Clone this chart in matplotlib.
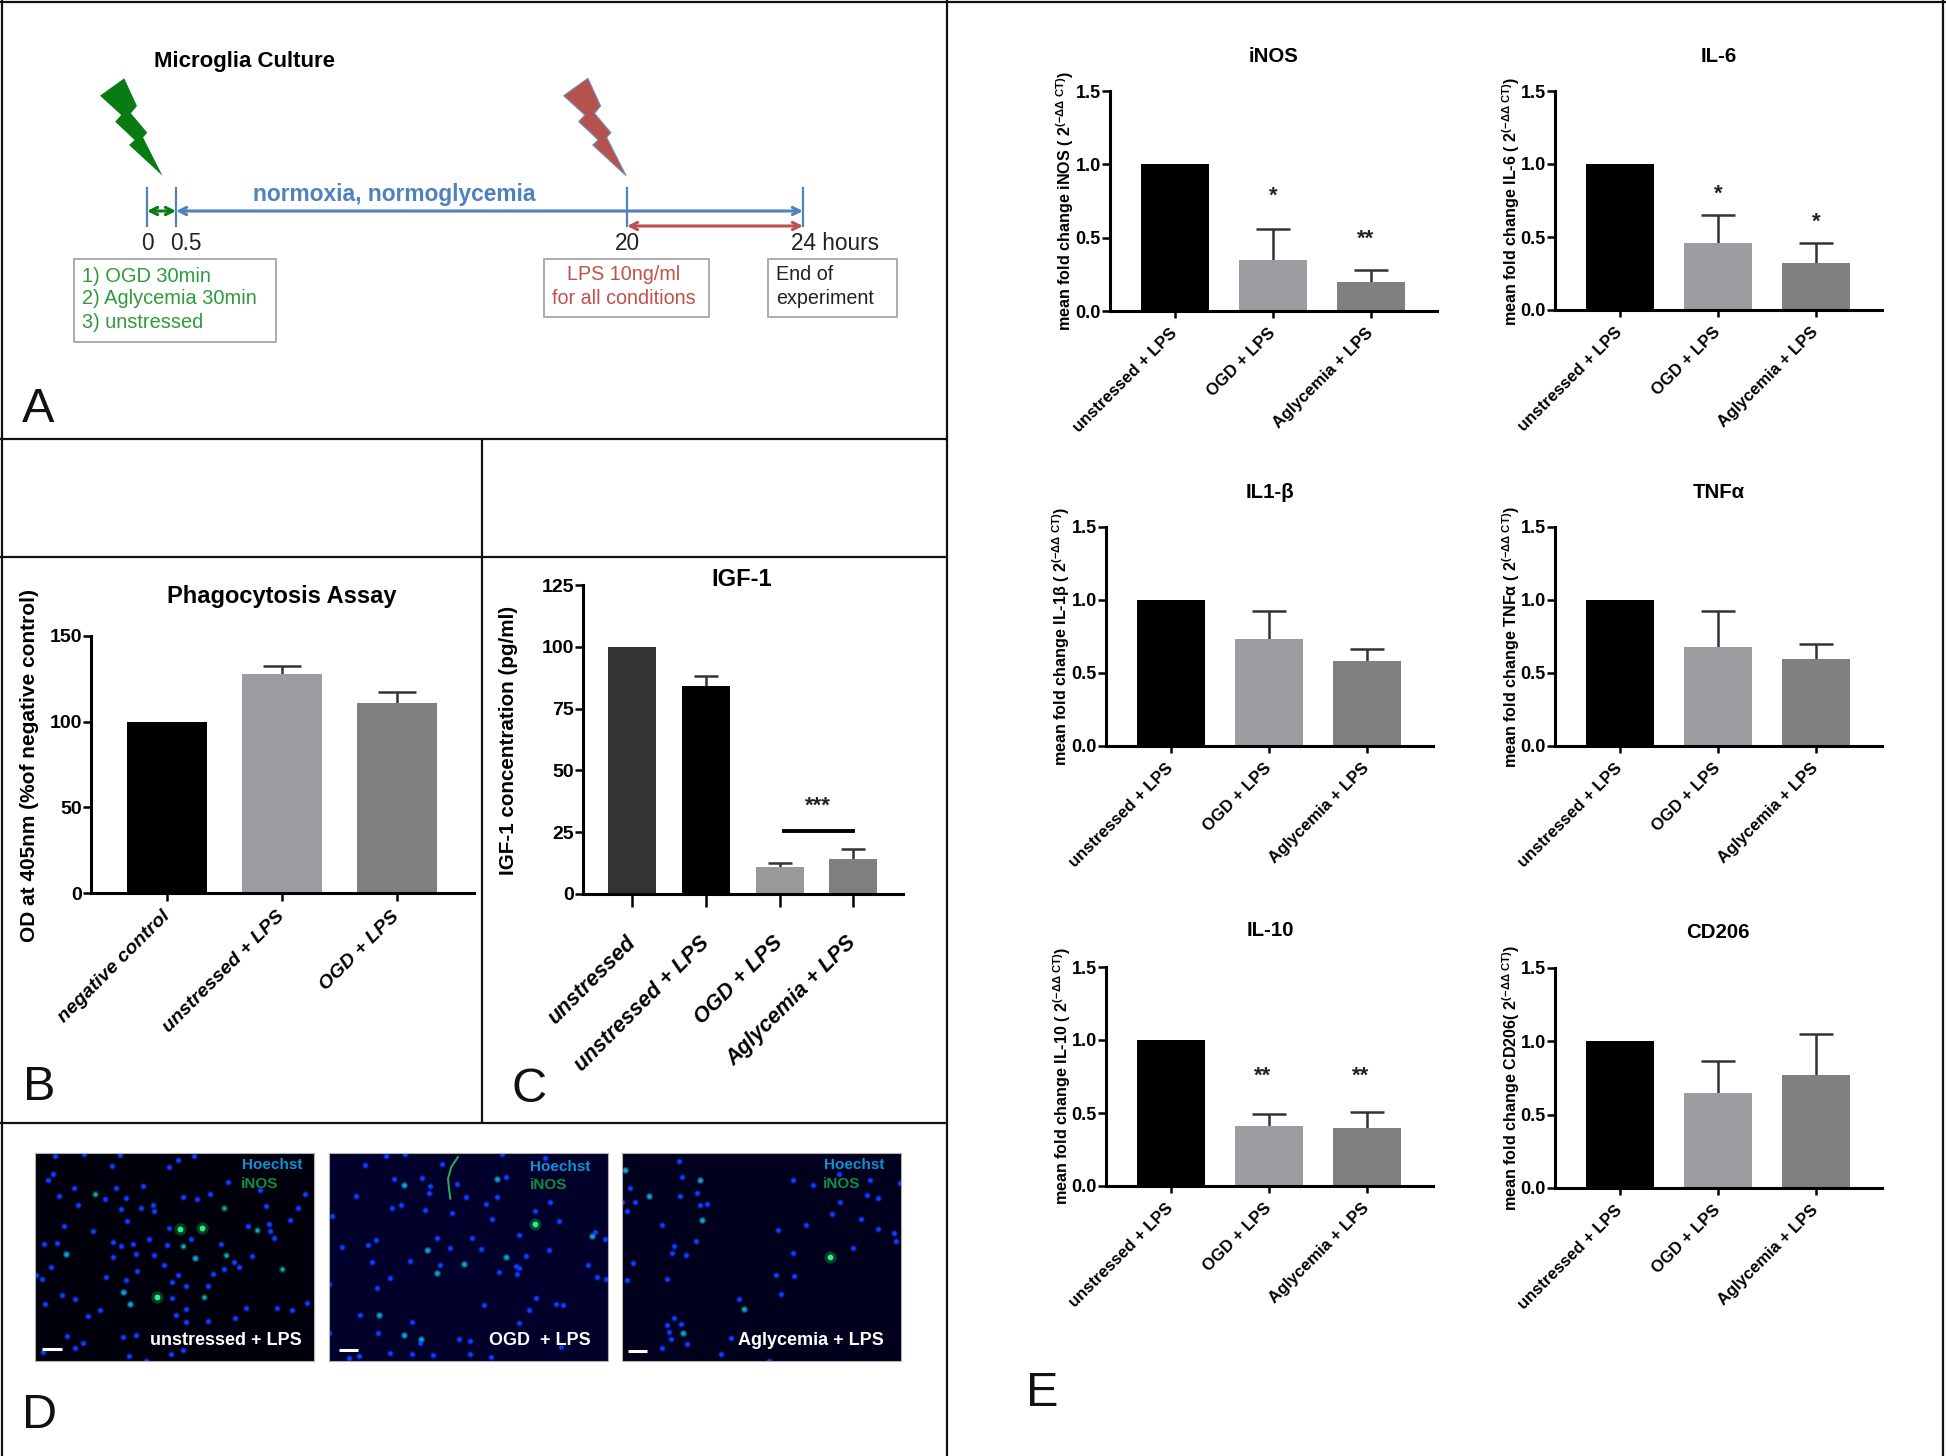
import matplotlib
matplotlib.use("Agg")
import matplotlib.pyplot as plt
from matplotlib.patches import Polygon, Rectangle

plt.rcParams['font.family'] = ['Liberation Sans', 'DejaVu Sans']
plt.rcParams['mathtext.fontset'] = 'custom'
plt.rcParams['mathtext.rm'] = 'Liberation Sans'
plt.rcParams['mathtext.bf'] = 'Liberation Sans:bold'
plt.rcParams['mathtext.it'] = 'Liberation Sans:italic'

W, H = 1946, 1456
BLACK, LIGHT, MID = '#000000', '#9d9da1', '#808080'

# panel B
b_labels = ['negative control', 'unstressed + LPS', 'OGD + LPS']
b_means = [100, 128, 111]
b_upper = [100, 132.5, 117.5]
b_ticks = [0, 50, 100, 150]

# panel C
c_labels = ['unstressed', 'unstressed + LPS', 'OGD + LPS', 'Aglycemia + LPS']
c_means = [100, 84, 11, 14]
c_upper = [100, 88, 12.7, 18.3]
c_ticks = [0, 25, 50, 75, 100, 125]

# panel E
e_labels = ['unstressed + LPS', 'OGD + LPS', 'Aglycemia + LPS']
e_ticks = [0.0, 0.5, 1.0, 1.5]
inos_means = [1.0, 0.35, 0.198]
inos_upper = [1.0, 0.558, 0.278]
il6_means = [1.0, 0.457, 0.32]
il6_upper = [1.0, 0.653, 0.457]
il1_means = [1.0, 0.732, 0.583]
il1_upper = [1.0, 0.927, 0.664]
tnf_means = [1.0, 0.68, 0.595]
tnf_upper = [1.0, 0.927, 0.70]
il10_means = [1.0, 0.408, 0.396]
il10_upper = [1.0, 0.496, 0.51]
cd206_means = [1.0, 0.645, 0.77]
cd206_upper = [1.0, 0.866, 1.048]

# panel D, spots
d1_blue = [(75,18),(162,10),(270,15),(492,18),(245,47),(68,70),(55,90),(443,28),(418,50),(258,113),(340,108),
           (133,113),(87,137),(143,165),(225,145),(288,143),(273,177),(333,172),(370,163),(372,183),(290,213),
           (103,228),(188,243),(417,233),(42,282),(80,277),(248,274),(272,287),(310,281),(358,265),(412,283),
           (483,267),(108,311),(250,319),(318,311),(372,315),(495,323),(63,350),(403,344),(322,361),(445,375),
           (18,375),(37,386),(228,380),(288,389),(425,395),(468,408),(533,406),(97,435),(135,446),(281,424),
           (300,460),(427,443),(467,475),(175,497),(209,480),(437,495),(467,516),(533,511),(648,473),(743,473),
           (788,480),(833,459),(615,502),(112,556),(160,578),(135,592),(278,561),(317,555),(296,618),(458,600),
           (422,612),(348,632),(38,605),(460,140),(500,145),(541,131),(595,95),(690,118),(708,168),(804,172),
           (827,131),(780,208),(718,222),(655,228),(722,243),(733,263),(575,280),(668,316),(612,335),(628,351),
           (583,356),(550,370),(45,460)]
d1_dim = [(583,172),(682,240),(590,313),(458,287),(522,441),(495,323),(757,357),(195,130),(280,425),(300,460),(108,311)]
d1_bright = [(450,235),(515,232),(380,440)]
d2_blue = [(137,43),(200,17),(255,10),(222,87),(110,138),(38,197),(217,172),(243,165),(253,103),(306,82),(315,178),
           (330,108),(327,128),(413,102),(367,40),(398,187),(440,140),(500,160),(533,140),(533,85),(560,80),(547,10),
           (677,22),(690,155),(647,182),(717,212),(518,207),(597,255),(687,298),(825,245),(818,258),(855,265),
           (620,318),(483,297),(458,262),(352,262),(391,292),(326,298),(169,270),(145,284),(68,291),(158,336),
           (270,332),(362,345),(433,340),(558,320),(590,347),(598,353),(593,372),(537,366),(805,344),(833,380),
           (858,385),(352,369),(210,383),(172,414),(650,442),(708,461),(730,463),(628,478),(492,464),(120,494),
           (177,495),(278,514),(597,517),(175,547),(252,555),(305,565),(300,578),(417,567),(450,573),(725,590),
           (210,607),(278,612),(340,615),(450,610),(513,620),(118,618),(88,622),(28,548),(28,400)]
d2_dim = [(322,298),(253,103),(818,258),(305,565),(177,495),(533,85),(252,555),(352,369),(433,340),(558,320)]
d2_bright = [(645,220)]
d2_fibre_x = [415, 395, 385, 388, 392]
d2_fibre_y = [20, 50, 85, 115, 145]
d3_blue = [(192,33),(30,60),(202,81),(256,90),(47,113),(103,137),(60,155),(37,182),(195,138),(248,128),(256,165),
           (278,162),(261,208),(141,225),(535,90),(595,105),(673,72),(765,90),(757,135),(788,143),(675,155),(650,190),
           (738,207),(572,223),(490,238),(788,235),(836,248),(842,272),(244,273),(177,287),(172,307),(215,315),
           (54,337),(36,390),(158,387),(715,293),(534,307),(483,373),(537,377),(497,432),(373,447),(388,476),(179,502),
           (157,524),(200,522),(163,546),(206,548),(170,565),(218,580),(143,592),(319,612),(855,97),(22,155),(350,562),
           (462,632)]
d3_dim = [(255,90),(261,208),(206,548),(103,137),(30,60),(388,476)]
d3_bright = [(645,320)]

bolt = [(205,235),(226,318),(216,340),(243,398),(236,412),(268,527),(213,435),(222,420),(190,365),(200,345),(165,287)]

fig = plt.figure(figsize=(W/100, H/100), dpi=100, facecolor='white')
over = fig.add_axes([0, 0, 1, 1], zorder=5)
over.set_xlim(0, W)
over.set_ylim(H, 0)
over.axis('off')
over.patch.set_alpha(0)


def px_axes(x0, y_top, x1, y_bot):
    return fig.add_axes([x0/W, 1-y_bot/H, (x1-x0)/W, (y_bot-y_top)/H])


def bar_chart(box, labels, means, upper, colors, ticks, fmt, width, title, title_xy, ylabel, ylabel_xy,
              title_size=14.7, label_size=11.6, tick_size=13, xt_size=12, italic=False, cap=24, tlen=5, pad=9):
    x0, y_top, x1, y_bot = box
    ax = px_axes(x0, y_top, x1, y_bot)
    xs = list(range(len(means)))
    ax.bar(xs, means, width=width, color=colors, zorder=2)
    # only the upper whisker is drawn, the lower half sits behind the bar in the original
    for x, m, u in zip(xs, means, upper):
        if u > m:
            ax.vlines(x, m, u, color='#333333', lw=1.8, zorder=1)
            ax.plot([x], [u], marker='_', ms=cap, mew=1.8, color='#333333', zorder=1, clip_on=False)
    ax.set_xlim(-0.665, len(means)-1+0.672)
    ax.set_ylim(ticks[0], ticks[-1])
    ax.set_yticks(ticks)
    ax.set_yticklabels([fmt % t for t in ticks], fontweight='bold', fontsize=tick_size)
    ax.set_xticks(xs)
    ax.set_xticklabels(labels, rotation=45, ha='right', va='center', rotation_mode='anchor', fontsize=xt_size,
                       fontweight='bold', fontstyle='italic' if italic else 'normal')
    ax.tick_params(axis='y', length=5.5, width=1.8, pad=1)
    ax.tick_params(axis='x', length=tlen, width=1.8, pad=pad)
    ax.spines[['top', 'right']].set_visible(False)
    ax.spines[['left', 'bottom']].set_linewidth(2.2)
    ax.patch.set_alpha(0)
    over.text(title_xy[0], title_xy[1], title, ha='center', va='center', fontsize=title_size, fontweight='bold')
    over.text(ylabel_xy[0], ylabel_xy[1], ylabel, ha='center', va='center', rotation=90, fontsize=label_size,
              fontweight='bold')
    return ax


def stars(ax, x, y, s):
    ax.text(x, y, s, ha='center', va='center', fontsize=16, fontweight='bold', color='#222222', zorder=4)


def micrograph(box, blue, dim, bright, bg, xlim, ylim):
    ax = px_axes(*box)
    ax.set_facecolor(bg)
    ax.set_xlim(*xlim)
    ax.set_ylim(*ylim)
    ax.set_xticks([])
    ax.set_yticks([])
    for s in ax.spines.values():
        s.set_color('#b0b0b0')
    bx, by = zip(*blue)
    ax.scatter(bx, by, s=24, color='#0a32ff', alpha=0.35, linewidths=0)
    ax.scatter(bx, by, s=10, color='#0a40ff', linewidths=0)
    dx, dy = zip(*dim)
    ax.scatter(dx, dy, s=28, color='#0fae4a', alpha=0.3, linewidths=0)
    ax.scatter(dx, dy, s=9, color='#10a0c8', linewidths=0)
    gx, gy = zip(*bright)
    ax.scatter(gx, gy, s=80, color='#0fae4a', alpha=0.35, linewidths=0)
    ax.scatter(gx, gy, s=18, color='#25f08a', linewidths=0)
    return ax


# frame lines
for xa, ya, xb, yb in [(0, 2, W, 2), (2, 0, 2, H), (1943, 0, 1943, H), (947, 0, 947, H), (0, 439, 947, 439),
                       (0, 557, 947, 557), (482, 439, 482, 1123), (0, 1123, 947, 1123)]:
    over.plot([xa, xb], [ya, yb], color='#111111', lw=1.6, solid_capstyle='butt')

# panel letters
for letter, x, y in [('A', 22, 410), ('B', 23, 1087), ('C', 511, 1090), ('D', 22, 1415), ('E', 1026, 1394)]:
    over.text(x, y, letter, fontsize=35, ha='left', va='center', color='#111111')

# panel A timeline
GREEN_T, RED_T, BLUE_T = '#2e9b3a', '#c0504d', '#4f81bd'
over.add_patch(Polygon([(a/1.65, b/3) for a, b in bolt], closed=True, fc='#0a7a12', ec='none'))
over.add_patch(Polygon([((a+765)/1.65, b/3) for a, b in bolt], closed=True, fc='#b5524c', ec='#6f8fc0', lw=0.8))
for x in [147, 176, 627, 803]:
    over.plot([x, x], [188, 226], color=BLUE_T, lw=1.6)


def arrow(x0, x1, y, c):
    over.annotate('', xy=(x1, y), xytext=(x0, y),
                  arrowprops=dict(arrowstyle='<->', color=c, lw=2.2, mutation_scale=13, shrinkA=0, shrinkB=0))


arrow(176, 803, 211, BLUE_T)
arrow(147, 176, 211, '#0a7a12')
arrow(627, 803, 226, RED_T)
over.text(244, 61, 'Microglia Culture', fontsize=16, fontweight='bold', ha='center', va='center')
over.text(394, 194, 'normoxia, normoglycemia', fontsize=16.4, fontweight='bold', color=BLUE_T, ha='center', va='center')
for s, x in [('0', 147), ('0.5', 186), ('20', 627), ('24 hours', 835)]:
    over.text(x, 244, s, fontsize=16.3, ha='center', va='center', color='#222222')
for x0, x1, y0, y1 in [(74, 276, 259, 342), (544, 709, 259, 317), (768, 897, 259, 317)]:
    over.add_patch(Rectangle((x0, y0), x1-x0, y1-y0, fc='white', ec='#a6a6a6', lw=1.3))
for s, y in [('1) OGD 30min', 276), ('2) Aglycemia 30min', 299), ('3) unstressed', 323)]:
    over.text(82, y, s, fontsize=14.4, color=GREEN_T, ha='left', va='center')
for s, y in [('LPS 10ng/ml', 275), ('for all conditions', 298)]:
    over.text(624, y, s, fontsize=14.2, color=RED_T, ha='center', va='center')
for s, y in [('End of', 275), ('experiment', 299)]:
    over.text(776, y, s, fontsize=14.2, color='#222222', ha='left', va='center')

# panel B
bar_chart((91, 636, 474, 893), b_labels, b_means, b_upper, [BLACK, LIGHT, MID], b_ticks, '%d', 0.696,
          'Phagocytosis Assay', (282, 596), 'OD at 405nm (%of negative control)', (30, 765),
          title_size=17, label_size=15, tick_size=14, xt_size=14, italic=True, cap=27, tlen=6, pad=9)

# panel C
ax_c = bar_chart((583, 585, 903, 894), c_labels, c_means, c_upper, ['#333333', BLACK, '#999999', '#7f7f7f'], c_ticks,
                 '%d', 0.65, 'IGF-1', (742, 579), 'IGF-1 concentration (pg/ml)', (508, 740),
                 title_size=17, label_size=14.9, tick_size=14, xt_size=15.5, italic=True, cap=17, tlen=9, pad=24)
ax_c.plot([2.06, 3.0], [25.5, 25.5], color='black', lw=2.8)
stars(ax_c, 2.52, 35.5, '***')

# panel E
e_colors = [BLACK, LIGHT, MID]
sup = r' ( 2$^{\mathbf{(-\Delta\Delta\ CT)}}$)'
ax_inos = bar_chart((1110, 91, 1437, 311), e_labels, inos_means, inos_upper, e_colors, e_ticks, '%.1f', 0.69,
                    'iNOS', (1273, 56), 'mean fold change iNOS' + sup, (1065, 201))
stars(ax_inos, 1, 0.786, '*')
stars(ax_inos, 1.94, 0.492, '**')
ax_il6 = bar_chart((1555, 91, 1882, 310), e_labels, il6_means, il6_upper, e_colors, e_ticks, '%.1f', 0.69,
                   'IL-6', (1719, 56), 'mean fold change IL-6' + sup, (1511, 201))
stars(ax_il6, 1, 0.79, '*')
stars(ax_il6, 2, 0.60, '*')
bar_chart((1106, 527, 1433, 746), e_labels, il1_means, il1_upper, e_colors, e_ticks, '%.1f', 0.69,
          'IL1-β', (1270, 493), 'mean fold change IL-1β' + sup, (1061, 637))
bar_chart((1555, 527, 1882, 746), e_labels, tnf_means, tnf_upper, e_colors, e_ticks, '%.1f', 0.69,
          'TNFα', (1719, 493), 'mean fold change TNFα' + sup, (1511, 637))
ax_il10 = bar_chart((1106, 967, 1433, 1186), e_labels, il10_means, il10_upper, e_colors, e_ticks, '%.1f', 0.69,
                    'IL-10', (1270, 931), 'mean fold change IL-10' + sup, (1062, 1076))
stars(ax_il10, 0.93, 0.755, '**')
stars(ax_il10, 1.93, 0.755, '**')
bar_chart((1555, 968, 1882, 1188), e_labels, cd206_means, cd206_upper, e_colors, e_ticks, '%.1f', 0.69,
          'CD206', (1718, 933), 'mean fold change CD206' + sup.replace(' ( ', '( ', 1), (1511, 1078))

# panel D
ax1 = micrograph((34.5, 1153, 314, 1361), d1_blue, d1_dim, d1_bright, '#00000c', (13, 853), (632, 8))
ax2 = micrograph((329, 1153, 608, 1361), d2_blue, d2_dim, d2_bright, '#00002a', (28, 865), (632, 8))
ax3 = micrograph((622, 1153, 901, 1361), d3_blue, d3_dim, d3_bright, '#00001c', (22, 858), (632, 8))
ax2.plot(d2_fibre_x, d2_fibre_y, color='#22b45a', lw=1.4)
for ax, x_right, lab, y_h, y_i, x_i, i_txt, bar_x, bar_y, lab_y in [
        (ax1, 817, 'unstressed + LPS', 45, 100, 632, 'iNOS', (37, 95), 595, 570),
        (ax2, 812, 'OGD  + LPS', 50, 105, 630, 'iNOS', (58, 116), 598, 570),
        (ax3, 808, 'Aglycemia + LPS', 45, 100, 625, 'iNOS', (40, 98), 603, 570)]:
    ax.text(x_right, y_h, 'Hoechst', color='#0a93d6', fontsize=11, fontweight='bold', ha='right', va='center')
    ax.text(x_i, y_i, i_txt, color='#0d8f3f', fontsize=11, fontweight='bold', ha='left', va='center')
    ax.text(x_right, lab_y, lab, color='white', fontsize=13, fontweight='bold', ha='right', va='center')
    ax.plot(bar_x, [bar_y, bar_y], color='white', lw=2.2, solid_capstyle='butt')

fig.savefig('out.png', dpi=100)
